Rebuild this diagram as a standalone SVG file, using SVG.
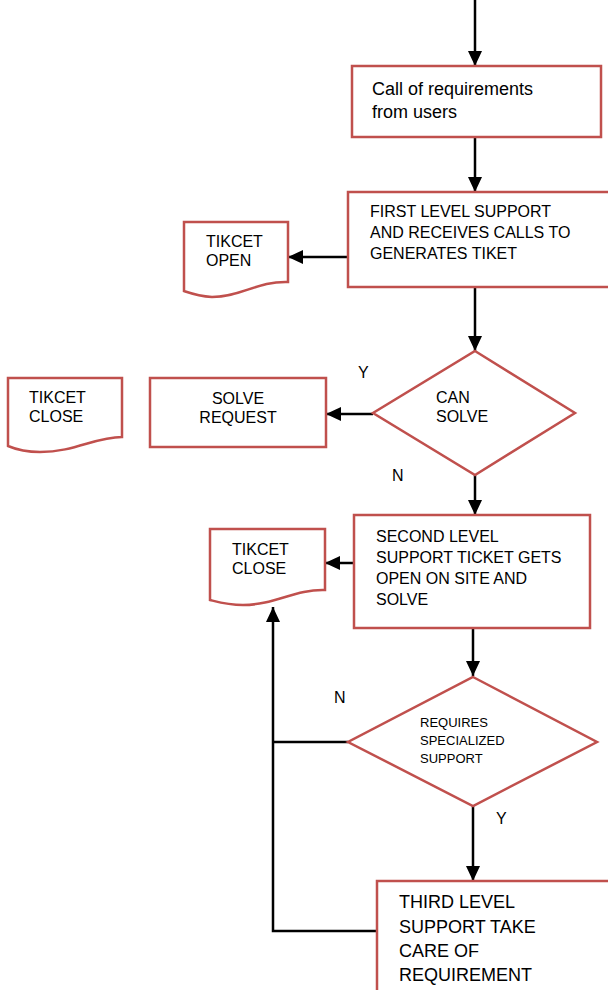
<svg xmlns="http://www.w3.org/2000/svg" width="608" height="990" viewBox="0 0 608 990">
<defs>
<marker id="ah" markerUnits="userSpaceOnUse" markerWidth="16" markerHeight="16" viewBox="0 0 16 16" refX="15" refY="8" orient="auto">
<path d="M0,1 L15,8 L0,15 Z" fill="#000"/>
</marker>
<style>
.n{fill:#fff;stroke:#c0504d;stroke-width:2.5}
.c{fill:none;stroke:#000;stroke-width:2.5}
.a{marker-end:url(#ah)}
text{font-family:"Liberation Sans",Arial,sans-serif;fill:#000;font-size:16px}
.big{font-size:18px}
.sm{font-size:13px}
</style>
</defs>
<g id="connectors">
<line class="c a" x1="475" y1="0" x2="475" y2="66"/>
<line class="c a" x1="475" y1="137" x2="475" y2="192"/>
<line class="c a" x1="348" y1="257" x2="288" y2="257"/>
<line class="c a" x1="475" y1="287" x2="475" y2="351"/>
<line class="c a" x1="373" y1="414" x2="326" y2="414"/>
<line class="c a" x1="475" y1="475" x2="475" y2="515"/>
<line class="c a" x1="354" y1="563" x2="325" y2="563"/>
<line class="c a" x1="473" y1="628" x2="473" y2="676"/>
<line class="c a" x1="473" y1="806" x2="473" y2="881"/>
<line class="c" x1="348" y1="742" x2="273" y2="742"/>
<polyline class="c a" points="377,931 273,931 273,607"/>
</g>
<g id="call">
<rect class="n" x="352" y="66" width="249" height="71"/>
<text class="big" x="372" y="95">Call of requirements</text>
<text class="big" x="372" y="118">from users</text>
</g>
<g id="first">
<rect class="n" x="348" y="192" width="270" height="95"/>
<text x="370" y="217">FIRST LEVEL SUPPORT</text>
<text x="370" y="238">AND RECEIVES CALLS TO</text>
<text x="370" y="259">GENERATES TIKET</text>
</g>
<g id="ticketOpen">
<path class="n" d="M184,222 H288 V282 C258,281 240,297 212,297 C198,296 190,293 184,291 Z"/>
<text x="206" y="247">TIKCET</text>
<text x="206" y="266">OPEN</text>
</g>
<g id="canSolve">
<polygon class="n" points="475,351 575,413 475,475 373,413"/>
<text x="436" y="403">CAN</text>
<text x="436" y="422">SOLVE</text>
<text x="358" y="378">Y</text>
<text x="392" y="481">N</text>
</g>
<g id="solveRequest">
<rect class="n" x="150" y="378" width="176" height="69"/>
<text x="238" y="404" text-anchor="middle">SOLVE</text>
<text x="238" y="423" text-anchor="middle">REQUEST</text>
</g>
<g id="ticketClose1">
<path class="n" d="M8,378 H122 V437 C95,437 75,452 40,452 C25,452 15,449 8,446 Z"/>
<text x="29" y="403">TIKCET</text>
<text x="29" y="422">CLOSE</text>
</g>
<g id="second">
<rect class="n" x="354" y="515" width="236" height="113"/>
<text x="376" y="542">SECOND LEVEL</text>
<text x="376" y="563">SUPPORT TICKET GETS</text>
<text x="376" y="584">OPEN ON SITE AND</text>
<text x="376" y="605">SOLVE</text>
</g>
<g id="ticketClose2">
<path class="n" d="M210,529 H325 V590 C295,589 275,605 243,605 C228,605 218,602 210,600 Z"/>
<text x="232" y="555">TIKCET</text>
<text x="232" y="574">CLOSE</text>
</g>
<g id="specialized">
<polygon class="n" points="473,677 597,742 473,806 348,742"/>
<text class="sm" x="420" y="727">REQUIRES</text>
<text class="sm" x="420" y="745">SPECIALIZED</text>
<text class="sm" x="420" y="763">SUPPORT</text>
<text x="334" y="703">N</text>
<text x="496" y="824">Y</text>
</g>
<g id="third">
<rect class="n" x="377" y="881" width="260" height="130"/>
<text class="big" x="399" y="908">THIRD LEVEL</text>
<text class="big" x="399" y="933">SUPPORT TAKE</text>
<text class="big" x="399" y="957">CARE OF</text>
<text class="big" x="399" y="981">REQUIREMENT</text>
</g>
</svg>
